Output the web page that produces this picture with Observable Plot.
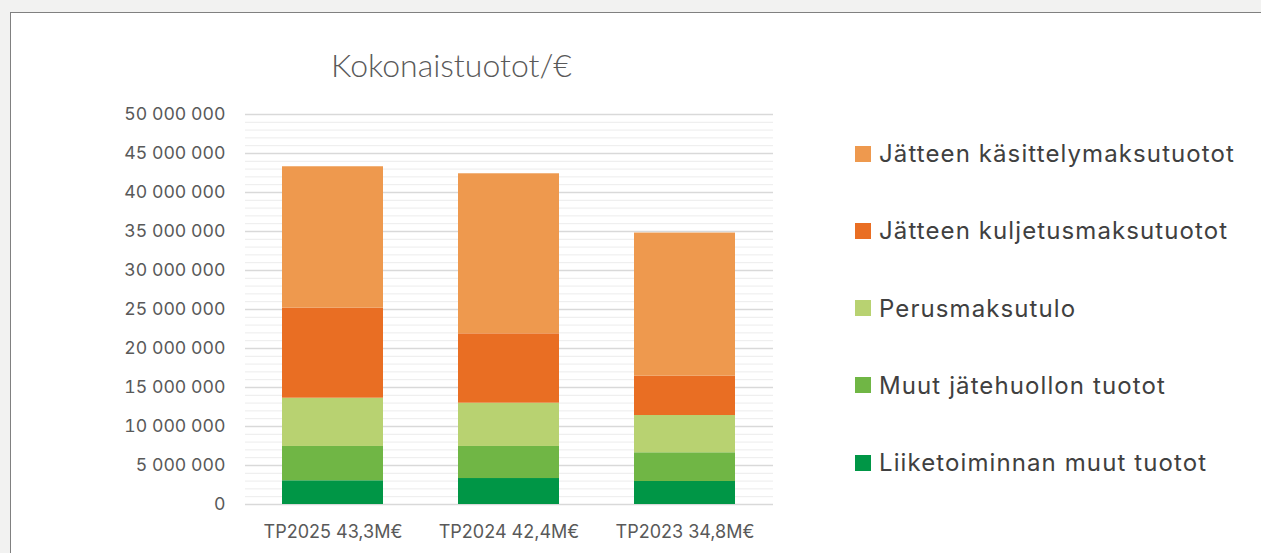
<!DOCTYPE html>
<html>
<head>
<meta charset="utf-8">
<script src="https://cdn.jsdelivr.net/npm/d3@7"></script>
<script src="https://cdn.jsdelivr.net/npm/@observablehq/plot@0.6"></script>
<style>
  html, body { margin: 0; padding: 0; width: 1261px; height: 553px; overflow: hidden; background: #f2f2f1; font-family: Inter, "Open Sans", sans-serif; }
  #panel { position: absolute; left: 10px; top: 12px; width: 1300px; height: 600px; background: #fff; border: 1px solid #808080; box-sizing: border-box; }
  #title { position: absolute; left: 0; width: 903px; top: 45px; text-align: center; font-family: Lato, sans-serif; font-weight: 300; font-size: 32px; color: #595959; }
  #chart { position: absolute; left: 0; top: 0; }
  #legend { position: absolute; left: 855px; top: 0; }
  .item { position: absolute; left: 0; white-space: nowrap; font-size: 24px; letter-spacing: 1.1px; color: #404040; display: flex; align-items: center; }
  .sw { width: 16px; height: 16px; margin-right: 8px; flex: none; }
</style>
</head>
<body>
<div id="panel"></div>
<div id="title">Kokonaistuotot/€</div>
<div id="chart"></div>
<div id="legend"></div>
<script>
const categories = ["TP2025 43,3M€", "TP2024 42,4M€", "TP2023 34,8M€"];
// series listed bottom to top
const series = ["Liiketoiminnan muut tuotot", "Muut jätehuollon tuotot", "Perusmaksutulo", "Jätteen kuljetusmaksutuotot", "Jätteen käsittelymaksutuotot"];
const colors = ["#009646", "#70b645", "#b8d271", "#e96e23", "#ee994e"];
const liiketoiminnan = [3040000, 3330000, 2950000];
const muutJatehuollon = [4400000, 4110000, 3680000];
const perusmaksu = [6190000, 5550000, 4780000];
const kuljetus = [11540000, 8890000, 5040000];
const kasittely = [18130000, 20520000, 18350000];
const yTicks = [0, 5000000, 10000000, 15000000, 20000000, 25000000, 30000000, 35000000, 40000000, 45000000, 50000000];

const valuesBySeries = [liiketoiminnan, muutJatehuollon, perusmaksu, kuljetus, kasittely];
const data = [];
series.forEach((s, si) => categories.forEach((c, ci) => data.push({cat: c, series: s, value: valuesBySeries[si][ci]})));
const minorTicks = d3.range(0, 50000001, 1000000).filter(v => v % 5000000 !== 0);
const fmt = d => d3.format(",")(d).replace(/,/g, " ");

const chart = Plot.plot({
  width: 800, height: 553,
  marginLeft: 245, marginRight: 27, marginTop: 114, marginBottom: 49,
  style: {fontFamily: "Inter, 'Open Sans', sans-serif", fontSize: "17.7px", color: "#595959", background: "transparent"},
  x: {domain: categories, paddingInner: 0.426, paddingOuter: 0.213, label: null},
  y: {domain: [0, 50000000], label: null},
  color: {domain: series, range: colors},
  marks: [
    Plot.ruleY(minorTicks, {stroke: "#ececec", strokeWidth: 1}),
    Plot.ruleY(yTicks, {stroke: "#d9d9d9", strokeWidth: 1.3}),
    Plot.barY(data, {x: "cat", y: "value", fill: "series", order: series}),
    Plot.axisY({ticks: yTicks, tickFormat: fmt, tickSize: 0, tickPadding: 20, fontSize: 17.7, fill: "#595959"}),
    Plot.axisX({tickSize: 0, tickPadding: 21, fontSize: 18, fill: "#595959"})
  ]
});
document.getElementById("chart").appendChild(chart);

const legend = document.getElementById("legend");
const legendOrder = series.slice().reverse();
const legendColors = colors.slice().reverse();
legendOrder.forEach((s, i) => {
  const div = document.createElement("div");
  div.className = "item";
  div.style.top = (139 + i * 77.3) + "px";
  div.innerHTML = `<span class="sw" style="background:${legendColors[i]}"></span><span>${s}</span>`;
  legend.appendChild(div);
});
</script>
</body>
</html>
